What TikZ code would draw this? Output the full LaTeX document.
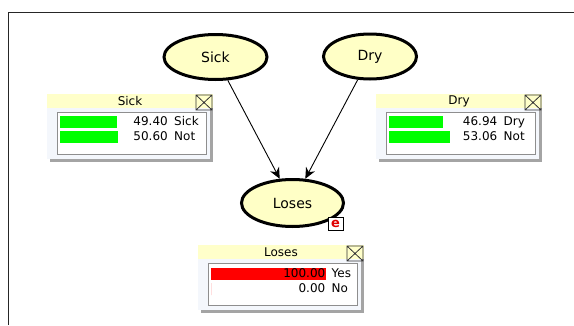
\documentclass[tikz,border=0pt]{standalone}
\usepackage{fontspec}
\setmainfont{DejaVu Sans}
\usetikzlibrary{arrows.meta,shapes.geometric}

\definecolor{nodefill}{HTML}{FFFFC6}
\definecolor{titlefill}{HTML}{FFFFCA}
\definecolor{panelfill}{HTML}{F4F7FC}
\definecolor{shadowgray}{HTML}{A4A4A4}
\definecolor{innergray}{HTML}{8E8E8E}
\definecolor{bargreen}{HTML}{00FF00}
\definecolor{barred}{HTML}{FF0000}
\definecolor{evred}{HTML}{E00000}

\tikzset{
  bnode/.style={ellipse, draw=black, line width=3pt, fill=nodefill,
    inner sep=0pt, font=\fontsize{14}{16}\selectfont},
  link/.style={draw=black, line width=0.9pt,
    -{Stealth[length=11pt, width=10pt, inset=3.5pt]}},
  evbox/.style={rectangle, draw=black, line width=0.9pt, fill=white,
    minimum width=15pt, minimum height=13pt, inner sep=0pt,
    text=evred, font=\fontsize{13}{13}\selectfont\bfseries},
  titletext/.style={inner sep=0pt, font=\fontsize{12}{14}\selectfont},
  valtext/.style={inner sep=0pt, font=\fontsize{12}{14}\selectfont},
  closebox/.style={draw=black!80, line width=0.8pt},
  innerbox/.style={draw=innergray, line width=1pt, fill=white},
  outerframe/.style={draw=black!85, line width=1.6pt}
}

% Monitor window: origin, name, title
\newcommand\monitorframe[3]{%
  \begin{scope}[shift={#1}]
    \fill[shadowgray] (3,14) rectangle (166,68);
    \fill[panelfill] (0,14) rectangle (163,65);
    \fill[titlefill] (0,0) rectangle (166,14);
    \node[titletext] (#2-title) at (83,7.5) {#3};
    \draw[closebox] (149,1) rectangle (165,16)
                    (149,1) -- (165,16) (149,16) -- (165,1);
    \draw[innerbox] (10,18) rectangle (159,60);
  \end{scope}}

% One state row: origin, name, bar top, colour, bar length, value, label, value right edge
\newcommand\monitorrow[8]{%
  \begin{scope}[shift={#1}]
    \fill[#4] (13,#3) rectangle ++(#5,12);
    \node[valtext, anchor=mid east] (#2-v) at (#8,#3+6.5) {#6};
    \node[valtext, anchor=mid west] (#2-l) at (#8+6,#3+6.5) {#7};
  \end{scope}}

\begin{document}
\begin{tikzpicture}[x=1pt, y=-1pt]
  \useasboundingbox (0,0) rectangle (574,325);
  \fill[white] (0,0) rectangle (574,325);

  % network canvas border
  \draw[outerframe] (8.5,325) -- (8.5,12.5) -- (574,12.5);

  % network nodes
  \node[bnode, minimum width=103pt, minimum height=45pt] (sick) at (215.5,57) {Sick};
  \node[bnode, minimum width=93pt, minimum height=45pt] (dry) at (370,56.5) {Dry};
  \node[bnode, minimum width=102pt, minimum height=47pt] (loses) at (292.5,203) {Loses};
  \node[evbox] (loses-ev) at (335.5,223.5) {e};

  % dependencies
  \draw[link] (sick) -- (loses);
  \draw[link] (dry) -- (loses);

  % Sick monitor
  \monitorframe{(47,94)}{msick}{Sick}
  \monitorrow{(47,94)}{msick-a}{22}{bargreen}{56.8}{49.40}{Sick}{121}
  \monitorrow{(47,94)}{msick-b}{37}{bargreen}{58.2}{50.60}{Not}{121}

  % Dry monitor
  \monitorframe{(376,94)}{mdry}{Dry}
  \monitorrow{(376,94)}{mdry-a}{22}{bargreen}{54}{46.94}{Dry}{121.5}
  \monitorrow{(376,94)}{mdry-b}{37}{bargreen}{61}{53.06}{Not}{121.5}

  % Loses monitor (evidence entered)
  \monitorframe{(198,245)}{mloses}{Loses}
  \monitorrow{(198,245)}{mloses-a}{23}{barred}{115}{100.00}{Yes}{127.5}
  \monitorrow{(198,245)}{mloses-b}{38}{barred}{0}{0.00}{No}{127.5}
\end{tikzpicture}
\end{document}
